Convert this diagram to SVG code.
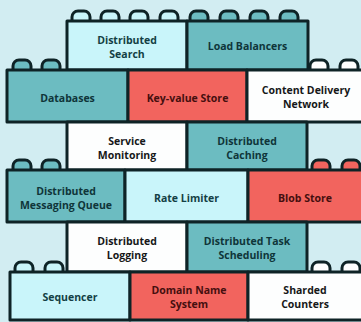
<svg xmlns="http://www.w3.org/2000/svg" width="361" height="322" viewBox="0 0 361 322">
  <style>
    .brick { stroke: #0e2326; stroke-width: 3; stroke-linejoin: round; }
    .stud { stroke: #0e2326; stroke-width: 3; }
    .teal { fill: #6cbcc1; }
    .cyan { fill: #c9f5fa; }
    .red { fill: #f2645e; }
    .white { fill: #fdfefe; }
    text { font-family: "Open Sans", "DejaVu Sans", sans-serif; font-size: 10.5px; font-weight: 700; text-anchor: middle; }
    .t-teal { fill: #0f3539; }
    .t-cyan { fill: #133f44; }
    .t-red { fill: #450f0f; }
    .t-white { fill: #161819; }
  </style>
  <defs>
    <!-- a single stud, its base sitting on y=0 -->
    <path id="stud" d="M0,0 V-4 A6,6 0 0 1 6,-10 H12 A6,6 0 0 1 18,-4 V0"/>
  </defs>

  <rect width="361" height="322" fill="#d2edf2"/>

  <!-- Row 1 -->
  <g id="distributed-search">
    <use href="#stud" x="72" y="21" class="stud cyan"/>
    <use href="#stud" x="101" y="21" class="stud cyan"/>
    <use href="#stud" x="130" y="21" class="stud cyan"/>
    <use href="#stud" x="160" y="21" class="stud cyan"/>
    <rect x="67" y="21" width="120" height="49" class="brick cyan"/>
    <text x="127" y="44" class="t-cyan">Distributed</text>
    <text x="127" y="58" class="t-cyan">Search</text>
  </g>
  <g id="load-balancers">
    <use href="#stud" x="190" y="21" class="stud teal"/>
    <use href="#stud" x="220" y="21" class="stud teal"/>
    <use href="#stud" x="250" y="21" class="stud teal"/>
    <use href="#stud" x="280" y="21" class="stud teal"/>
    <rect x="187" y="21" width="121" height="49" class="brick teal"/>
    <text x="247.5" y="50" class="t-teal">Load Balancers</text>
  </g>

  <!-- Row 2 -->
  <g id="databases">
    <use href="#stud" x="13" y="70" class="stud teal"/>
    <use href="#stud" x="42" y="70" class="stud teal"/>
    <rect x="7" y="70" width="121" height="52" class="brick teal"/>
    <text x="67.5" y="102" class="t-teal">Databases</text>
  </g>
  <g id="key-value-store">
    <rect x="128" y="70" width="119" height="52" class="brick red"/>
    <text x="187.5" y="102" class="t-red">Key-value Store</text>
  </g>
  <g id="content-delivery-network">
    <use href="#stud" x="310" y="70" class="stud white"/>
    <use href="#stud" x="340" y="70" class="stud white"/>
    <rect x="247" y="70" width="120" height="52" class="brick white"/>
    <text x="306" y="94" class="t-white">Content Delivery</text>
    <text x="306" y="108" class="t-white">Network</text>
  </g>

  <!-- Row 3 -->
  <g id="service-monitoring">
    <rect x="67" y="122" width="120" height="48" class="brick white"/>
    <text x="127" y="145" class="t-white">Service</text>
    <text x="127" y="159" class="t-white">Monitoring</text>
  </g>
  <g id="distributed-caching">
    <rect x="187" y="122" width="120" height="48" class="brick teal"/>
    <text x="247" y="145" class="t-teal">Distributed</text>
    <text x="247" y="159" class="t-teal">Caching</text>
  </g>

  <!-- Row 4 -->
  <g id="distributed-messaging-queue">
    <use href="#stud" x="13" y="170" class="stud teal"/>
    <use href="#stud" x="42" y="170" class="stud teal"/>
    <rect x="7" y="170" width="118" height="52" class="brick teal"/>
    <text x="66" y="195" class="t-teal">Distributed</text>
    <text x="66" y="209" class="t-teal">Messaging Queue</text>
  </g>
  <g id="rate-limiter">
    <rect x="125" y="170" width="123" height="52" class="brick cyan"/>
    <text x="186.5" y="202" class="t-cyan">Rate Limiter</text>
  </g>
  <g id="blob-store">
    <use href="#stud" x="312" y="170" class="stud red"/>
    <use href="#stud" x="342" y="170" class="stud red"/>
    <rect x="248" y="170" width="120" height="52" class="brick red"/>
    <text x="305" y="202" class="t-red">Blob Store</text>
  </g>

  <!-- Row 5 -->
  <g id="distributed-logging">
    <rect x="67" y="222" width="120" height="50" class="brick white"/>
    <text x="127" y="245" class="t-white">Distributed</text>
    <text x="127" y="259" class="t-white">Logging</text>
  </g>
  <g id="distributed-task-scheduling">
    <rect x="187" y="222" width="120" height="50" class="brick teal"/>
    <text x="247" y="245" class="t-teal">Distributed Task</text>
    <text x="247" y="259" class="t-teal">Scheduling</text>
  </g>

  <!-- Row 6 -->
  <g id="sequencer">
    <use href="#stud" x="15" y="272" class="stud cyan"/>
    <use href="#stud" x="45" y="272" class="stud cyan"/>
    <rect x="10" y="272" width="120" height="48" class="brick cyan"/>
    <text x="70" y="301" class="t-cyan">Sequencer</text>
  </g>
  <g id="domain-name-system">
    <rect x="130" y="272" width="118" height="48" class="brick red"/>
    <text x="189" y="294" class="t-red">Domain Name</text>
    <text x="189" y="308" class="t-red">System</text>
  </g>
  <g id="sharded-counters">
    <use href="#stud" x="312" y="272" class="stud white"/>
    <use href="#stud" x="342" y="272" class="stud white"/>
    <rect x="248" y="272" width="120" height="48" class="brick white"/>
    <text x="305" y="294" class="t-white">Sharded</text>
    <text x="305" y="308" class="t-white">Counters</text>
  </g>

  <g id="connectors"/>
</svg>
